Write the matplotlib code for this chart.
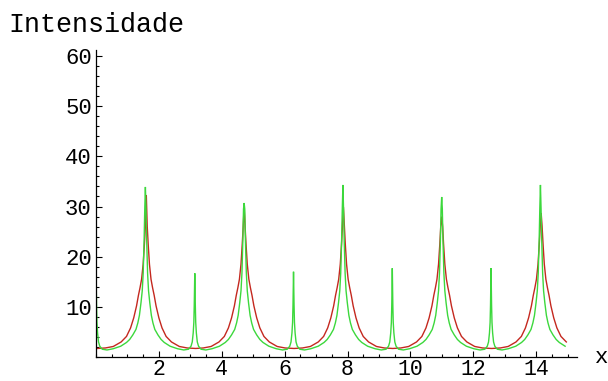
import numpy as np
import matplotlib
matplotlib.use("Agg")
import matplotlib.pyplot as plt
from matplotlib.ticker import MultipleLocator, FixedLocator

plt.rcParams["font.family"] = ["Liberation Mono", "DejaVu Sans Mono"]

# Peak positions and sampled peak heights of each curve
red_peaks = [1.60, 4.712, 7.87, 10.996, 14.16]
red_heights = [32.3, 30.0, 29.9, 28.0, 28.7]

green_odd_peaks = [1.571, 4.712, 7.854, 10.996, 14.137]
green_odd_heights = [33.9, 30.7, 34.3, 31.9, 34.3]
green_even_peaks = [0.0, 3.142, 6.283, 9.425, 12.566]
green_even_heights = [17.7, 16.7, 17.0, 17.7, 17.7]

# Flank shape of each peak type: distance from the peak -> intensity
red_offsets = [0.0, 0.03, 0.06, 0.1, 0.15, 0.2, 0.25, 0.31, 0.4, 0.5,
               0.63, 0.8, 1.05, 1.3, 1.571]
red_profile = [34.0, 26.0, 22.5, 18.5, 15.5, 13.8, 12.3, 10.2, 7.8, 5.8,
               4.1, 3.0, 2.1, 1.8, 1.7]

green_odd_offsets = [0.0, 0.02, 0.04, 0.07, 0.1, 0.14, 0.19, 0.24, 0.3,
                     0.4, 0.5, 0.6, 0.785]
green_odd_profile = [34.0, 29.5, 23.5, 16.7, 13.2, 10.8, 8.3, 6.8, 5.5,
                     4.4, 3.5, 2.9, 2.15]
green_even_offsets = [0.0, 0.017, 0.03, 0.05, 0.08, 0.12, 0.2, 0.35, 0.55, 0.785]
green_even_profile = [17.0, 10.3, 6.9, 4.8, 3.0, 2.15, 1.55, 1.4, 1.65, 2.15]

x_ticks = [2, 4, 6, 8, 10, 12, 14]
y_ticks = [10, 20, 30, 40, 50, 60]

X_MIN, X_MAX = 0.0, 15.0


def peak_points(center, height, offsets, profile):
    off = np.asarray(offsets, float)
    prof = np.minimum(np.asarray(profile, float), height)
    x = np.concatenate([center - off[:0:-1], [center], center + off[1:]])
    y = np.concatenate([prof[:0:-1], [height], prof[1:]])
    return x, y


def assemble(groups):
    xs, ys = [], []
    for centers, heights, offsets, profile in groups:
        for c, h in zip(centers, heights):
            x, y = peak_points(c, h, offsets, profile)
            xs.append(x)
            ys.append(y)
    x = np.concatenate(xs)
    y = np.concatenate(ys)
    order = np.argsort(x, kind="stable")
    x, y = x[order], y[order]
    keep = (x >= X_MIN - 1e-9) & (x <= X_MAX + 1e-9)
    return x[keep], y[keep]


red_x, red_y = assemble([(red_peaks, red_heights, red_offsets, red_profile)])
green_x, green_y = assemble([
    (green_odd_peaks, green_odd_heights, green_odd_offsets, green_odd_profile),
    (green_even_peaks, green_even_heights, green_even_offsets, green_even_profile),
])

W, H = 608, 381
fig = plt.figure(figsize=(W / 100, H / 100), dpi=100)
ax_left, ax_right, ax_bottom, ax_top = 96, 577, 357, 50
ax = fig.add_axes([ax_left / W, 1 - ax_bottom / H,
                   (ax_right - ax_left) / W, (ax_bottom - ax_top) / H])
ax.set_xlim(0, 15.3)
ax.set_ylim(0, 61.2)

ax.plot(red_x, red_y, color="#c4281f", lw=1.0, solid_joinstyle="miter")
ax.plot(green_x, green_y, color="#3cd83c", lw=1.0, solid_joinstyle="miter")

for s in ("top", "right"):
    ax.spines[s].set_visible(False)
for s in ("left", "bottom"):
    ax.spines[s].set_linewidth(0.9)
    ax.spines[s].set_color("black")

ax.xaxis.set_major_locator(FixedLocator(x_ticks))
ax.xaxis.set_minor_locator(MultipleLocator(0.5))
ax.yaxis.set_major_locator(FixedLocator(y_ticks))
ax.yaxis.set_minor_locator(MultipleLocator(2))
ax.set_xticklabels([str(t) for t in x_ticks])
ax.set_yticklabels([str(t) for t in y_ticks])

ax.tick_params(axis="both", which="major", direction="in", length=4.0,
               width=0.8, labelsize=16, colors="black")
ax.tick_params(axis="both", which="minor", direction="in", length=2.4,
               width=0.8)
ax.tick_params(axis="x", which="major", pad=1.5, labelsize=15.5)
ax.tick_params(axis="y", which="major", pad=3)

fig.text(8 / W, 1 - 32 / H, "Intensidade", fontsize=19.3, ha="left",
         va="baseline")
fig.text(602 / W, 1 - 363 / H, "x", fontsize=16, ha="center", va="baseline")

fig.savefig("out.png", dpi=100, facecolor="white")
